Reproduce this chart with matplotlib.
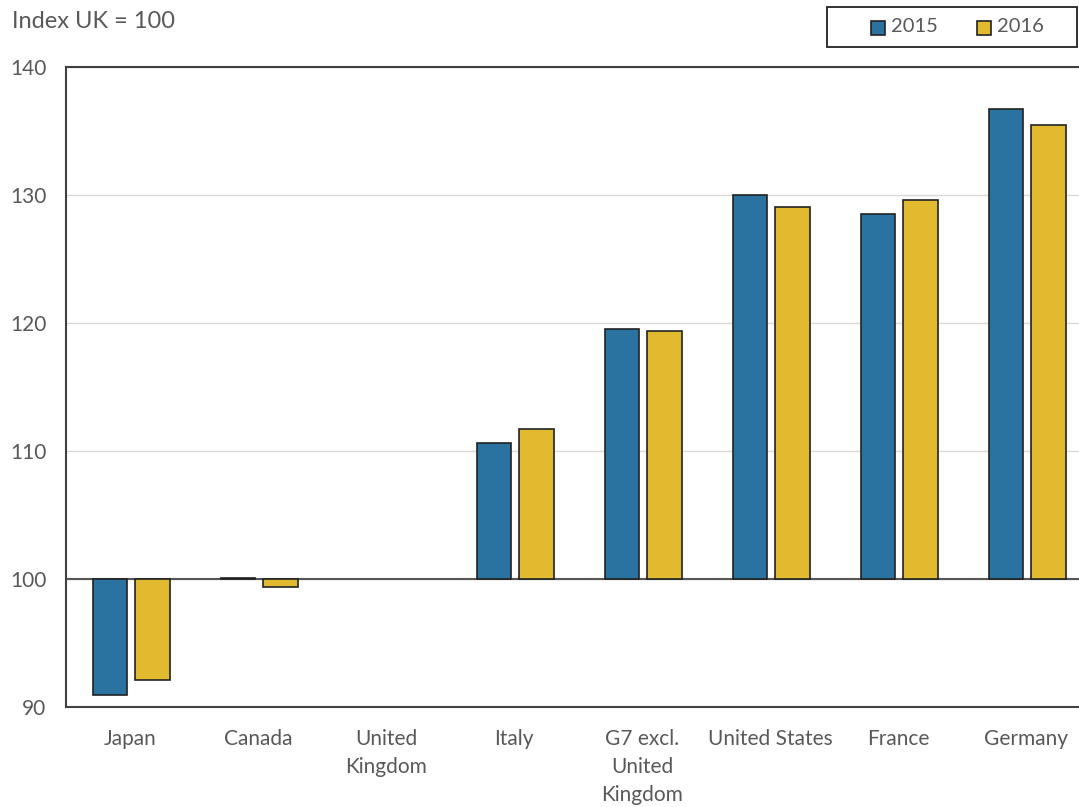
import matplotlib
matplotlib.use("Agg")
import matplotlib.pyplot as plt
import numpy as np
from matplotlib.patches import Rectangle

categories = ["Japan", "Canada", "United\nKingdom", "Italy", "G7 excl.\nUnited\nKingdom",
              "United States", "France", "Germany"]
v2015 = [90.9, 100.1, 100.0, 110.6, 119.5, 130.0, 128.5, 136.7]
v2016 = [92.1, 99.4, 100.0, 111.7, 119.4, 129.1, 129.6, 135.5]
series_labels = ["2015", "2016"]
yticks = [90, 100, 110, 120, 130, 140]

plt.rcParams['font.family'] = ['Lato', 'DejaVu Sans']
txt = '#595959'
c15 = '#2A73A1'
c16 = '#E1BA2F'
colors = [c15, c16]

W, H = 1079, 807
fig = plt.figure(figsize=(W/100, H/100), dpi=100)
left, right = 66, 1090
top, bottom = 67, 707
ax = fig.add_axes([left/W, 1 - bottom/H, (right-left)/W, (bottom-top)/H])

x = np.arange(len(categories))
bw = 0.27
off = 0.165
b1 = np.array(v2015) - 100
b2 = np.array(v2016) - 100
for vals, sgn, col in [(b1, -1, c15), (b2, 1, c16)]:
    bars = ax.bar(x + sgn*off + 0.01, vals, bw, bottom=100, color=col, edgecolor='#222222',
                  linewidth=1.2, zorder=3)
    for b, v in zip(bars, vals):
        if abs(v) < 1e-9:
            b.set_linewidth(0)
ax.axhline(100, color='#555555', linewidth=1.5, zorder=2)

ax.set_xlim(-0.5, len(categories) - 0.5)
ax.set_ylim(90, 140)
ax.set_yticks(yticks)
ax.set_yticklabels([str(t) for t in yticks], color=txt, fontsize=15)
ax.yaxis.grid(True, color='#D9D9D9', linewidth=1, zorder=0)
ax.set_xticks(x)
ax.set_xticklabels(categories, color=txt, fontsize=15, linespacing=1.5)
ax.tick_params(axis='both', length=0)
ax.tick_params(axis='y', pad=14)
ax.tick_params(axis='x', pad=16)
for s in ['left', 'bottom', 'top']:
    ax.spines[s].set_color('#404040')
    ax.spines[s].set_linewidth(1.5)
ax.spines['right'].set_visible(False)

fig.text(12/W, 1 - 21/H, "Index UK = 100", color=txt, fontsize=17, va='center', ha='left')

# legend drawn manually in figure pixel coordinates
def fx(px):
    return px / W
def fy(py):
    return 1 - py / H

fig.add_artist(Rectangle((fx(827), fy(47)), (1077-827)/W, 40/H, transform=fig.transFigure,
                         facecolor='white', edgecolor='#222222', linewidth=1.3))
sq_x = [871, 977]
for sx, col, lab in zip(sq_x, colors, series_labels):
    fig.add_artist(Rectangle((fx(sx), fy(35)), 14/W, 14/H, transform=fig.transFigure,
                             facecolor=col, edgecolor='#222222', linewidth=1.2))
    fig.text(fx(sx + 20), fy(27), lab, color=txt, fontsize=14.5, va='center', ha='left')

fig.savefig("out.png", dpi=100)
